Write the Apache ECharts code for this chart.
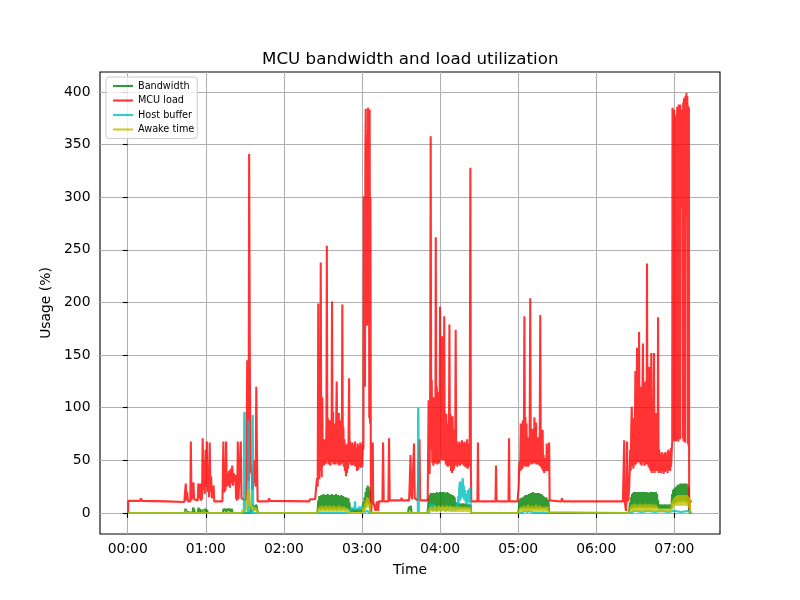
<!DOCTYPE html>
<html>
<head>
<meta charset="utf-8">
<title>MCU bandwidth and load utilization</title>
<script src="https://cdn.jsdelivr.net/npm/echarts@6/dist/echarts.min.js"></script>
<style>
  html, body { margin: 0; padding: 0; background: #fff; }
  #chart { width: 800px; height: 600px; }
</style>
</head>
<body>
<div id="chart"></div>
<script>
// x values are minutes since 00:00, y values are usage in %
const xTickValues = [0, 60, 120, 180, 240, 300, 360, 420];
const xTickLabels = ['00:00', '01:00', '02:00', '03:00', '04:00', '05:00', '06:00', '07:00'];
const yTickValues = [0, 50, 100, 150, 200, 250, 300, 350, 400];
const seriesNames = ['Bandwidth', 'MCU load', 'Host buffer', 'Awake time'];

const bandwidth = [
  [0.3,0],[44,0],[44.3,4],[45.1,5],[45.7,1],[46.3,0],[49.8,0],[50.3,5],[51.1,3],[51.6,0],[53.9,0],[54.4,5],[55,2],[55.5,4],[56,0],
  [57.5,0],[57.9,3],[58.8,1],[59.6,4],[60.3,0],[60.9,3],[61.5,0],[73.1,0],[73.6,4],[74.3,2],[75.1,4],[75.9,1],[76.7,4],[77.5,2],
  [78.3,4],[79.1,1],[79.9,4],[80.6,0],[94.5,0],[95.1,7],[95.7,3],[96.3,8],[96.9,4],[97.5,7],[98.1,3],[98.7,8],[99.3,5],[99.9,0],
  [145.5,0],[146,3],[146.4,12],[146.8,4],[147.2,16],[147.6,5],[148,15],[148.4,3],[148.8,17],[149.2,6],[149.6,14],[150,4],[150.4,18],
  [150.8,5],[151.2,15],[151.6,3],[152,17],[152.4,6],[152.8,14],[153.2,4],[153.6,18],[154,5],[154.4,16],[154.8,3],[155.2,17],[155.6,6],
  [156,15],[156.4,4],[156.8,18],[157.2,5],[157.6,16],[158,3],[158.4,17],[158.8,6],[159.2,14],[159.6,4],[160,18],[160.4,5],[160.8,15],
  [161.2,3],[161.6,17],[162,6],[162.4,16],[162.8,4],[163.2,15],[163.6,5],[164,17],[164.4,3],[164.8,14],[165.2,6],[165.6,16],[166,4],
  [166.4,15],[166.8,5],[167.2,13],[167.6,3],[168,15],[168.4,5],[168.8,12],[169.2,4],[169.6,14],[170,3],[170.4,10],[170.8,2],[171.4,4],
  [172,1],[173,4],[174,1],[175,3],[176,1],[177,4],[178,1],[179,3],[180,1],[180.8,2],[181.2,10],[181.6,4],[182,15],[182.4,6],[182.8,20],
  [183.2,8],[183.6,24],[184,10],[184.4,26],[184.8,12],[185.2,25],[185.6,8],[186,22],[186.4,4],[186.8,0],
  [215.4,0],[216.1,6],[216.9,3],[217.5,7],[218.1,0],
  [230.3,0],[230.8,5],[231.2,14],[231.6,4],[232,17],[232.4,5],[232.8,19],[233.2,6],[233.6,18],[234,4],[234.4,19],[234.8,6],[235.2,17],
  [235.6,5],[236,19],[236.4,6],[236.8,18],[237.2,4],[237.6,20],[238,6],[238.4,18],[238.8,5],[239.2,19],[239.6,6],[240,20],[240.4,5],
  [240.8,19],[241.2,6],[241.6,20],[242,5],[242.4,18],[242.8,6],[243.2,20],[243.6,5],[244,19],[244.4,6],[244.8,18],[245.2,5],[245.6,20],
  [246,6],[246.4,19],[246.8,5],[247.2,17],[247.6,6],[248,18],[248.4,5],[248.8,16],[249.2,6],[249.6,17],[250,5],[250.4,16],[250.8,6],
  [251.2,15],[251.6,5],[252.2,10],[252.8,4],[253.6,9],[254.6,4],[255.6,9],[256.6,4],[257.6,9],[258.6,4],[259.6,9],[260.6,4],[261.6,8],
  [262.6,4],[263.4,8],[263.9,0],
  [299.6,0],[300.5,3],[300.9,12],[301.3,4],[301.7,14],[302.1,5],[302.5,13],[302.9,4],[303.3,15],[303.7,5],[304.1,14],[304.5,4],[304.9,16],
  [305.3,5],[305.7,17],[306.1,4],[306.5,16],[306.9,5],[307.3,17],[307.7,4],[308.1,18],[308.5,5],[308.9,17],[309.3,4],[309.7,19],[310.1,5],
  [310.5,18],[310.9,4],[311.3,20],[311.7,5],[312.1,18],[312.5,4],[312.9,19],[313.3,5],[313.7,18],[314.1,4],[314.5,19],[314.9,5],[315.3,18],
  [315.7,4],[316.1,19],[316.5,5],[316.9,17],[317.3,4],[317.7,18],[318.1,5],[318.5,17],[318.9,4],[319.3,16],[319.7,5],[320.1,15],[320.5,4],
  [320.9,14],[321.3,5],[321.7,15],[322.1,4],[322.5,13],[322.9,3],[323.3,12],[323.8,0],
  [384.8,0],[385.5,4],[385.9,10],[386.3,4],[386.7,15],[387.1,5],[387.5,18],[387.9,4],[388.3,19],[388.7,6],[389.1,20],[389.5,5],[389.9,19],
  [390.3,6],[390.7,20],[391.1,5],[391.5,18],[391.9,6],[392.3,20],[392.7,5],[393.1,19],[393.5,6],[393.9,20],[394.3,5],[394.7,18],[395.1,6],
  [395.5,20],[395.9,5],[396.3,19],[396.7,6],[397.1,20],[397.5,5],[397.9,18],[398.3,6],[398.7,20],[399.1,5],[399.5,19],[399.9,6],[400.3,18],
  [400.7,5],[401.1,20],[401.5,6],[401.9,19],[402.3,5],[402.7,20],[403.1,6],[403.5,18],[403.9,5],[404.3,20],[404.7,6],[405.1,19],[405.5,5],
  [405.9,20],[406.3,6],[406.7,18],[407.1,5],[407.5,12],[407.9,4],[408.8,8],[409.8,4],[410.8,8],[411.8,4],[412.8,8],[413.8,4],[414.8,8],
  [415.8,4],[416.8,8],[417.8,4],[418.3,18],[418.7,8],[419.1,22],[419.5,10],[419.9,23],[420.3,9],[420.7,24],[421.1,11],[421.5,25],[421.9,10],
  [422.3,26],[422.7,12],[423.1,27],[423.5,11],[423.9,26],[424.3,12],[424.7,28],[425.1,11],[425.5,27],[425.9,12],[426.3,28],[426.7,11],
  [427.1,27],[427.5,12],[427.9,28],[428.3,11],[428.7,27],[429.1,12],[429.5,28],[429.9,10],[430.3,26],[430.7,8],[431.1,24],[431.5,4],
  [431.9,0],[433.4,0]
];

const mcuLoad = [
  [0.3,0],[0.4,11.5],[9.5,11.5],[10.2,14],[10.9,11.5],[30,11],[43.5,10.5],
  [44,11],[44.6,28],[45.1,12],[45.7,20],[46.3,11],[48.1,11],[48.5,68],[49,12],[50.2,12],[50.5,29],[51,13],[53.8,12],[54.3,28],[54.8,14],
  [55.6,28],[56.1,12],[57.1,14],[57.6,71],[58.1,22],[58.7,50],[59.2,18],[59.8,60],[60.3,25],[60.8,68],[61.3,20],[61.9,45],[62.4,15],
  [63,67],[63.5,20],[64.1,35],[64.6,14],[66,26],[66.5,11],
  [72.8,11],[73.5,68],[74,20],[75.1,22],[75.6,68],[76.1,25],[76.7,38],[77.3,26],[77.9,40],[78.5,24],[79.1,42],[79.7,28],[80.3,45],
  [80.9,26],[81.5,38],[82.1,30],[82.7,36],[83.3,14],[84.1,12],[84.6,68],[85.1,13],[86.4,12],[86.9,68],[87.4,14],[90.8,12],[91.3,40],
  [91.8,145],[92.3,60],[92.9,30],[93.3,341],[93.8,150],[94.3,38],[95.1,45],[95.8,22],[96.6,30],[97.3,50],[98.3,25],[98.8,120],[99.3,58],
  [99.8,11],[107.9,11],[108.6,14],[109.3,11.5],[139.5,11],[140,13],[144,13],
  [144.6,12],[145.2,30],[145.6,33],[146,25],[146.4,199],[146.8,40],[147.2,32],[147.6,112],[148,40],[148.3,238],[148.7,60],[149.1,34],
  [149.5,110],[149.9,48],[150.3,64],[150.7,45],[151.1,70],[151.5,46],[151.9,66],[152.3,47],[152.7,85],[153,254],[153.4,50],[153.8,90],
  [154.2,46],[154.6,80],[155,47],[155.4,88],[155.8,45],[156.2,75],[156.6,48],[157,201],[157.4,50],[157.8,96],[158.2,46],[158.6,85],
  [159,47],[159.4,78],[159.8,46],[160.2,90],[160.6,125],[161,48],[161.4,80],[161.8,46],[162.2,95],[162.6,45],[163,70],[163.4,47],
  [163.8,88],[164.2,46],[164.6,75],[164.9,198],[165.3,48],[165.7,82],[166.1,44],[166.5,70],[166.9,40],[167.3,65],[167.7,35],[168.1,60],
  [168.5,38],[168.9,66],[169.3,42],[169.7,72],[170.1,128],[170.5,48],[170.9,68],[171.3,46],[171.7,66],[172.2,45],[172.7,67],[173.2,46],
  [173.7,64],[174.2,45],[174.7,68],[175.2,44],[175.7,62],[176.2,40],[176.7,66],[177.2,41],[177.7,64],[178.2,44],[178.7,67],[179.2,43],
  [179.7,65],[180.2,44],[180.7,68],
  [181.1,60],[181.4,301],[181.7,180],[182,290],[182.3,120],[182.6,340],[182.9,384],[183.2,190],[183.5,360],[183.8,178],[184.1,300],
  [184.4,200],[184.7,385],[185,180],[185.3,370],[185.6,90],[185.9,383],[186.2,85],[186.5,300],[186.8,40],[187.1,1],[187.5,11],[188,11],
  [188.3,67],[188.6,11],[189.5,11],[190.5,2],[191.5,11],[192.3,2],[193,11],[195.7,11],[196.2,67],[196.7,11],[200.3,11],[200.8,71],
  [201.3,12],[210,12],[210.4,14.5],[210.9,12],[216.2,12],[216.6,25],[217.3,55],[217.7,20],[218.4,13],[219.4,14],[220,66],[220.5,14],
  [222.7,12],[224.2,70],[224.7,12],[230.5,12],
  [230.9,12],[231.2,107],[231.6,40],[232,37],[232.4,120],[232.8,358],[233.2,60],[233.6,126],[234,48],[234.4,100],[234.8,45],[235.2,110],
  [235.6,50],[236,90],[236.4,47],[236.7,262],[237.1,55],[237.5,120],[237.9,46],[238.3,100],[238.7,48],[239.1,115],[239.5,47],[240,196],
  [240.4,60],[240.8,150],[241.2,50],[241.6,168],[242,55],[242.4,110],[242.8,50],[243.2,187],[243.6,52],[244,90],[244.4,46],[244.8,94],
  [245.2,45],[245.6,85],[246,44],[246.4,80],[246.8,60],[247.2,179],[247.6,45],[248,94],[248.4,40],[248.8,85],[249.2,38],[249.6,92],
  [250,40],[250.4,80],[250.8,42],[251.2,70],[251.6,45],[252,174],[252.4,47],[252.8,68],[253.3,44],[253.8,66],[254.3,46],[254.8,68],
  [255.3,45],[255.8,66],[256.3,47],[256.8,69],[257.3,46],[257.8,67],[258.3,45],[258.8,68],[259.3,44],[259.8,66],[260.3,43],[260.8,70],
  [261.3,42],[261.8,66],[262.3,44],[262.8,68],[263.3,328],[263.7,40],[264,11],
  [268.7,11],[269.1,67],[269.5,11],[282.6,11],[283,45],[283.4,11],[292.6,11],[293,71],[293.4,11],[299.5,11],
  [300,11],[300.4,25],[300.8,42],[301.1,49],[301.5,40],[301.8,60],[302,85],[302.4,41],[302.8,70],[303.2,42],[303.6,88],[304,44],
  [304.4,60],[304.8,187],[305.2,45],[305.6,91],[306,44],[306.4,85],[306.8,45],[307.2,72],[307.6,44],[308,65],[308.4,45],[308.8,60],
  [309.3,204],[309.7,47],[310.1,75],[310.5,46],[310.9,80],[311.3,47],[311.7,65],[312.1,48],[312.5,91],[312.9,47],[313.3,66],[313.7,86],
  [314.1,46],[314.5,60],[314.9,47],[315.3,72],[315.7,46],[316.1,58],[316.5,45],[317,188],[317.4,44],[317.8,60],[318.2,42],[318.8,79],
  [319.2,40],[319.6,55],[320,38],[320.4,52],[320.8,40],[321.2,50],[321.6,42],[322,66],[322.4,40],[322.8,58],[323.3,42],[323.8,67],
  [324.2,12],[324.6,11],[333,11],[333.7,14],[334.4,11],[380.5,11],
  [381.1,11],[381.5,69],[381.9,11],[382.6,11],[382.8,2],[383.3,11],[383.7,68],[384.1,11],[384.8,14],[385.3,25],[385.7,39],[386.1,60],
  [386.5,40],[386.9,80],[387.3,101],[387.7,45],[388.1,70],[388.5,42],[388.9,90],[389.3,45],[389.7,80],[390.1,135],[390.5,46],[390.9,95],
  [391.4,157],[391.8,48],[392.2,85],[392.6,50],[392.9,172],[393.3,48],[393.7,110],[394.1,46],[394.5,120],[394.9,45],[395.3,95],
  [395.9,161],[396.3,48],[396.7,100],[397.1,45],[397.5,125],[397.9,46],[398.3,90],[398.7,50],[399,237],[399.4,46],[399.8,110],[400.2,44],
  [400.6,139],[401,42],[401.4,85],[401.8,40],[402.3,152],[402.7,38],[403.1,95],[403.5,40],[403.9,80],[404.4,152],[404.8,38],[405.2,75],
  [405.6,40],[406,95],[406.4,42],[406.8,70],[407.2,40],[407.5,186],[407.9,38],[408.3,60],[408.8,40],[409.3,56],[409.8,38],[410.3,58],
  [410.8,40],[411.3,55],[411.8,37],[412.3,57],[412.8,39],[413.3,58],[413.8,40],[414.3,56],[414.8,38],[415.3,60],[415.8,41],[416.3,58],
  [416.8,40],[417.3,62],[417.5,44],[418,58],
  [418.4,68],[418.6,385],[418.9,70],[419.2,380],[419.5,68],[419.8,383],[420.1,72],[420.4,376],[420.7,70],[421,370],[421.3,68],[421.6,378],
  [421.9,72],[422.2,386],[422.5,70],[422.8,382],[423.1,68],[423.4,388],[423.7,72],[424,385],[424.3,70],[424.6,388],[425,290],[425.4,380],
  [425.8,292],[426.2,383],[426.5,71],[426.8,390],[427.1,68],[427.4,394],[427.7,70],[428,392],[428.2,67],[428.5,396],[428.9,285],
  [429.3,399],[429.7,282],[430,396],[430.3,66],[430.6,387],[430.9,64],[431.2,385],[431.4,2],[431.8,11],[433.4,11]
];

const hostBuffer = [
  [0.3,0],[89.2,0],[89.5,94],[89.9,96],[90.2,0],[92.4,0],[92.7,85],[93,88],[93.3,0],[95.4,0],[95.7,90],[96.1,93],[96.4,0],
  [170.5,0],[171,3],[172,5],[173,3],[174.3,6],[174.7,11],[175.1,4],[176,5],[177,3],[178,6],[179,4],[180,6],[181,3],[182,1],[184,2],[186,0],
  [222.9,0],[223.1,98],[223.4,100],[223.7,0],
  [231.7,0],[232.2,5],[232.7,9],[233.2,3],[233.7,8],[234.2,2],[234.7,9],[235.2,3],[235.7,7],[236.7,2],[238.7,4],[240.7,2],[242.7,5],
  [244.7,2],[246.7,6],[248.7,2],[250.7,5],[252.2,3],[253,10],[253.5,5],[254,16],[254.4,8],[254.8,25],[255.3,30],[255.7,12],[256.2,28],
  [256.7,15],[257.1,31],[257.5,33],[257.9,14],[258.3,26],[258.7,12],[259.2,22],[259.7,10],[260.1,18],[260.5,16],[260.9,8],[261.3,20],
  [261.7,22],[262.1,10],[262.5,20],[263,24],[263.5,8],[263.9,0],
  [303,0],[305,2],[307,1],[309,2],[311,0],
  [386,0],[390,2],[395,1],[400,2],[405,1],[410,2],[415,1],[420,2],[425,1],[431.5,2],[433.4,0]
];

const awakeTime = [
  [0.3,0],[44.3,0],[44.8,2],[45.3,0],[57.8,0],[58.3,2],[59.3,0],[87.3,0],[88.3,3],[89.3,1],[91.3,4],[91.8,12],[92.3,22],[92.8,8],
  [93.3,20],[93.9,6],[94.5,12],[95.3,3],[96.3,6],[97.3,2],[98.3,5],[99.3,2],[99.9,0],
  [145.8,0],[146.3,4],[146.8,1],[147.3,6],[147.8,2],[148.3,5],[148.8,1],[149.3,7],[149.8,2],[150.3,5],[150.8,1],[151.3,6],[151.8,2],
  [152.3,7],[152.8,1],[153.3,5],[153.8,2],[154.3,6],[154.8,1],[155.3,7],[155.8,2],[156.3,5],[156.8,1],[157.3,6],[157.8,2],[158.3,7],
  [158.8,1],[159.3,5],[159.8,2],[160.3,6],[160.8,1],[161.3,5],[161.8,2],[162.3,7],[162.8,1],[163.3,5],[163.8,2],[164.3,6],[164.8,1],
  [165.3,5],[165.8,2],[166.3,6],[166.8,1],[167.3,5],[167.8,1],[168.3,4],[168.8,1],[169.5,3],[170.2,0],[180.5,0],[181,5],[181.5,2],
  [182,9],[182.5,3],[183,12],[183.5,5],[184,15],[184.5,6],[185,14],[185.5,5],[186,10],[186.6,0],
  [230.6,0],[231.1,3],[231.6,1],[232.1,5],[232.6,2],[233.1,6],[233.6,2],[234.1,5],[234.6,1],[235.1,6],[235.6,2],[236.1,7],[236.6,2],
  [237.1,5],[237.6,1],[238.1,6],[238.6,2],[239.1,7],[239.6,2],[240.1,5],[240.6,1],[241.1,6],[241.6,2],[242.1,7],[242.6,2],[243.1,5],
  [243.6,1],[244.1,6],[244.6,2],[245.1,7],[245.6,2],[246.1,5],[246.6,1],[247.1,6],[247.6,2],[248.1,7],[248.6,2],[249.1,5],[249.6,1],
  [250.1,6],[250.6,2],[251.1,6],[251.6,1],[252.1,5],[252.6,2],[253.1,6],[253.6,1],[254.1,5],[254.6,2],[255.1,6],[255.6,1],[256.1,5],
  [256.6,2],[257.1,6],[257.6,1],[258.1,5],[258.6,2],[259.1,6],[259.6,1],[260.1,5],[260.6,2],[261.1,6],[261.6,1],[262.1,5],[262.6,2],
  [263.1,5],[263.8,0],
  [300.2,0],[300.7,3],[301.2,1],[301.7,5],[302.2,2],[302.7,6],[303.2,1],[303.7,5],[304.2,2],[304.7,7],[305.2,1],[305.7,5],[306.2,2],
  [306.7,6],[307.2,1],[307.7,8],[308.2,2],[308.7,5],[309.2,1],[309.7,6],[310.2,2],[310.7,7],[311.2,1],[311.7,5],[312.2,2],[312.7,6],
  [313.2,1],[313.7,8],[314.2,2],[314.7,5],[315.2,1],[315.7,6],[316.2,2],[316.7,7],[317.2,1],[317.7,5],[318.2,2],[318.7,6],[319.2,1],
  [319.7,5],[320.2,2],[320.7,6],[321.2,1],[321.7,5],[322.2,2],[322.7,6],[323.2,1],[323.7,0],
  [385.2,0],[385.7,3],[386.2,1],[386.7,6],[387.2,2],[387.7,8],[388.2,2],[388.7,6],[389.2,1],[389.7,9],[390.2,2],[390.7,6],[391.2,1],
  [391.7,8],[392.2,2],[392.7,7],[393.2,1],[393.7,9],[394.2,2],[394.7,6],[395.2,1],[395.7,8],[396.2,2],[396.7,7],[397.2,1],[397.7,9],
  [398.2,2],[398.7,6],[399.2,1],[399.7,8],[400.2,2],[400.7,7],[401.2,1],[401.7,9],[402.2,2],[402.7,6],[403.2,1],[403.7,8],[404.2,2],
  [404.7,7],[405.2,1],[405.7,8],[406.2,2],[406.7,6],[407.2,1],[408,4],[409,1],[410,4],[411,1],[412,4],[413,1],[414,4],[415,1],[416,4],
  [417,1],[417.8,3],[418.2,10],[418.6,4],[419,12],[419.4,6],[419.8,14],[420.2,7],[420.6,15],[421,8],[421.4,16],[421.8,7],[422.2,15],
  [422.6,8],[423,17],[423.4,7],[423.8,16],[424.2,8],[424.6,17],[425,7],[425.4,16],[425.8,8],[426.2,17],[426.6,7],[427,16],[427.4,8],
  [427.8,17],[428.2,7],[428.6,16],[429,8],[429.4,17],[429.8,7],[430.2,16],[430.6,6],[431,15],[431.4,5],[431.8,14],[432.2,2],[432.6,0],
  [433.4,0]
];

const font = 'DejaVu Sans';

function lineSeries(name, data, color) {
  return {
    name: name,
    type: 'line',
    data: data,
    color: color,
    symbol: 'none',
    showSymbol: false,
    silent: true,
    lineStyle: { width: 2.1 },
    emphasis: { disabled: true }
  };
}

const chart = echarts.init(document.getElementById('chart'));
chart.setOption({
  animation: false,
  backgroundColor: '#ffffff',
  textStyle: { fontFamily: font },
  title: {
    text: 'MCU bandwidth and load utilization',
    left: 262,
    top: 51,
    padding: 0,
    textStyle: { fontFamily: font, fontSize: 16.7, fontWeight: 'normal', color: '#000' }
  },
  grid: {
    left: 100, right: 80, top: 72, bottom: 66,
    show: true, borderColor: '#000', borderWidth: 1.1, backgroundColor: 'transparent'
  },
  legend: {
    data: seriesNames,
    orient: 'vertical',
    left: 106,
    top: 77,
    padding: [4, 3, 4, 7],
    icon: 'rect',
    itemWidth: 20,
    itemHeight: 2.1,
    itemGap: 4.5,
    selectedMode: false,
    backgroundColor: 'rgba(255,255,255,0.8)',
    borderColor: '#cccccc',
    borderWidth: 1,
    borderRadius: 3,
    textStyle: { fontFamily: font, fontSize: 9.7, color: '#000' }
  },
  xAxis: {
    type: 'value',
    min: -21.3,
    max: 455.1,
    name: 'Time',
    nameLocation: 'middle',
    nameGap: 29,
    nameTextStyle: { fontFamily: font, fontSize: 13.9, color: '#000' },
    axisLine: { show: false },
    axisTick: { show: true, customValues: xTickValues, length: 4.9, lineStyle: { color: '#000', width: 1.1 } },
    axisLabel: {
      customValues: xTickValues,
      margin: 8.5,
      fontFamily: font,
      fontSize: 13.9,
      color: '#000',
      formatter: function (v) { return xTickLabels[xTickValues.indexOf(v)]; }
    },
    splitLine: { show: true, lineStyle: { color: '#b0b0b0', width: 1.1 } }
  },
  yAxis: {
    type: 'value',
    min: -19.95,
    max: 418.95,
    name: 'Usage (%)',
    nameLocation: 'middle',
    nameGap: 36,
    nameTextStyle: { fontFamily: font, fontSize: 13.9, color: '#000' },
    axisLine: { show: false },
    axisTick: { show: true, customValues: yTickValues, length: 4.9, lineStyle: { color: '#000', width: 1.1 } },
    axisLabel: { customValues: yTickValues, margin: 9.5, fontFamily: font, fontSize: 13.9, color: '#000' },
    splitLine: { show: true, lineStyle: { color: '#b0b0b0', width: 1.1 } }
  },
  series: [
    lineSeries(seriesNames[0], bandwidth, 'rgba(0,128,0,0.8)'),
    lineSeries(seriesNames[1], mcuLoad, 'rgba(255,0,0,0.8)'),
    lineSeries(seriesNames[2], hostBuffer, 'rgba(0,191,191,0.8)'),
    lineSeries(seriesNames[3], awakeTime, 'rgba(191,191,0,0.8)')
  ]
});
</script>
</body>
</html>
